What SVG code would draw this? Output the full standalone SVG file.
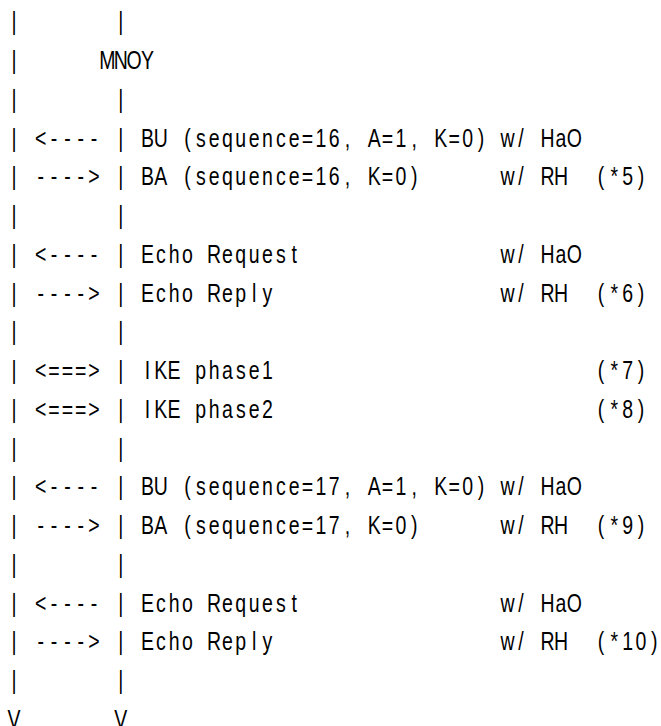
<svg xmlns="http://www.w3.org/2000/svg" width="661" height="726" viewBox="0 0 661 726">
  <style>
    text { font-family: "Liberation Sans", Arial, sans-serif; font-size: 25px; fill: #000; text-anchor: middle; }
  </style>
  <rect width="661" height="726" fill="#fff"/>
  <!-- narrow glyphs: the whole drawing is squeezed to 78% width, so every
       x below is a column centre (14 + 13.34*col) divided by 0.78 -->
  <g transform="scale(0.78 1)">
    <g id="lifelines-top">
      <text xml:space="preserve" y="30.5" x="17.9 35.1 52.2 69.3 86.4 103.5 120.6 137.7 154.8">|       |</text>
    </g>
    <g id="node-MNOY">
      <text xml:space="preserve" y="69.25" x="17.9 35.1 52.2 69.3 86.4 103.5 120.6 137.7 154.8 171.9 189">|      MNOY</text>
    </g>
    <g id="connectors">
      <text xml:space="preserve" y="108" x="17.9 35.1 52.2 69.3 86.4 103.5 120.6 137.7 154.8">|       |</text>
      <text xml:space="preserve" y="146.75" x="17.9 35.1 52.2 69.3 86.4 103.5 120.6 137.7 154.8 171.9 189 206.1 223.2 240.3 257.4 274.5 291.6 308.7 325.8 342.9 360 377.1 394.2 411.3 428.4 445.5 462.6 479.7 496.8 513.9 531 548.1 565.2 582.4 599.5 616.6 633.7 650.8 667.9 685 702.1 719.2 736.3">| &lt;---- | BU (sequence=16, A=1, K=0) w/ HaO</text>
      <text xml:space="preserve" y="185.5" x="17.9 35.1 52.2 69.3 86.4 103.5 120.6 137.7 154.8 171.9 189 206.1 223.2 240.3 257.4 274.5 291.6 308.7 325.8 342.9 360 377.1 394.2 411.3 428.4 445.5 462.6 479.7 496.8 513.9 531 548.1">| ----&gt; | BA (sequence=16, K=0) <tspan x="650.8 667.9 685 702.1 719.2 736.3 753.4 770.5 787.6 804.7 821.8">w/ RH  (*5)</tspan></text>
      <text xml:space="preserve" y="224.25" x="17.9 35.1 52.2 69.3 86.4 103.5 120.6 137.7 154.8">|       |</text>
      <text xml:space="preserve" y="263" x="17.9 35.1 52.2 69.3 86.4 103.5 120.6 137.7 154.8 171.9 189 206.1 223.2 240.3 257.4 274.5 291.6 308.7 325.8 342.9 360 377.1 394.2">| &lt;---- | Echo Request <tspan x="650.8 667.9 685 702.1 719.2 736.3">w/ HaO</tspan></text>
      <text xml:space="preserve" y="301.75" x="17.9 35.1 52.2 69.3 86.4 103.5 120.6 137.7 154.8 171.9 189 206.1 223.2 240.3 257.4 274.5 291.6 308.7 325.8 342.9 360">| ----&gt; | Echo Reply <tspan x="650.8 667.9 685 702.1 719.2 736.3 753.4 770.5 787.6 804.7 821.8">w/ RH  (*6)</tspan></text>
      <text xml:space="preserve" y="340.5" x="17.9 35.1 52.2 69.3 86.4 103.5 120.6 137.7 154.8">|       |</text>
      <text xml:space="preserve" y="379.25" x="17.9 35.1 52.2 69.3 86.4 103.5 120.6 137.7 154.8 171.9 189 206.1 223.2 240.3 257.4 274.5 291.6 308.7 325.8 342.9 360">| &lt;===&gt; | IKE phase1 <tspan x="770.5 787.6 804.7 821.8">(*7)</tspan></text>
      <text xml:space="preserve" y="418" x="17.9 35.1 52.2 69.3 86.4 103.5 120.6 137.7 154.8 171.9 189 206.1 223.2 240.3 257.4 274.5 291.6 308.7 325.8 342.9 360">| &lt;===&gt; | IKE phase2 <tspan x="770.5 787.6 804.7 821.8">(*8)</tspan></text>
      <text xml:space="preserve" y="456.75" x="17.9 35.1 52.2 69.3 86.4 103.5 120.6 137.7 154.8">|       |</text>
      <text xml:space="preserve" y="495.5" x="17.9 35.1 52.2 69.3 86.4 103.5 120.6 137.7 154.8 171.9 189 206.1 223.2 240.3 257.4 274.5 291.6 308.7 325.8 342.9 360 377.1 394.2 411.3 428.4 445.5 462.6 479.7 496.8 513.9 531 548.1 565.2 582.4 599.5 616.6 633.7 650.8 667.9 685 702.1 719.2 736.3">| &lt;---- | BU (sequence=17, A=1, K=0) w/ HaO</text>
      <text xml:space="preserve" y="534.25" x="17.9 35.1 52.2 69.3 86.4 103.5 120.6 137.7 154.8 171.9 189 206.1 223.2 240.3 257.4 274.5 291.6 308.7 325.8 342.9 360 377.1 394.2 411.3 428.4 445.5 462.6 479.7 496.8 513.9 531 548.1">| ----&gt; | BA (sequence=17, K=0) <tspan x="650.8 667.9 685 702.1 719.2 736.3 753.4 770.5 787.6 804.7 821.8">w/ RH  (*9)</tspan></text>
      <text xml:space="preserve" y="573" x="17.9 35.1 52.2 69.3 86.4 103.5 120.6 137.7 154.8">|       |</text>
      <text xml:space="preserve" y="611.75" x="17.9 35.1 52.2 69.3 86.4 103.5 120.6 137.7 154.8 171.9 189 206.1 223.2 240.3 257.4 274.5 291.6 308.7 325.8 342.9 360 377.1 394.2">| &lt;---- | Echo Request <tspan x="650.8 667.9 685 702.1 719.2 736.3">w/ HaO</tspan></text>
      <text xml:space="preserve" y="650.5" x="17.9 35.1 52.2 69.3 86.4 103.5 120.6 137.7 154.8 171.9 189 206.1 223.2 240.3 257.4 274.5 291.6 308.7 325.8 342.9 360">| ----&gt; | Echo Reply <tspan x="650.8 667.9 685 702.1 719.2 736.3 753.4 770.5 787.6 804.7 821.8 838.9">w/ RH  (*10)</tspan></text>
      <text xml:space="preserve" y="689.25" x="17.9 35.1 52.2 69.3 86.4 103.5 120.6 137.7 154.8">|       |</text>
      <text xml:space="preserve" y="728" x="17.9 35.1 52.2 69.3 86.4 103.5 120.6 137.7 154.8">V       V</text>
    </g>
  </g>
</svg>
